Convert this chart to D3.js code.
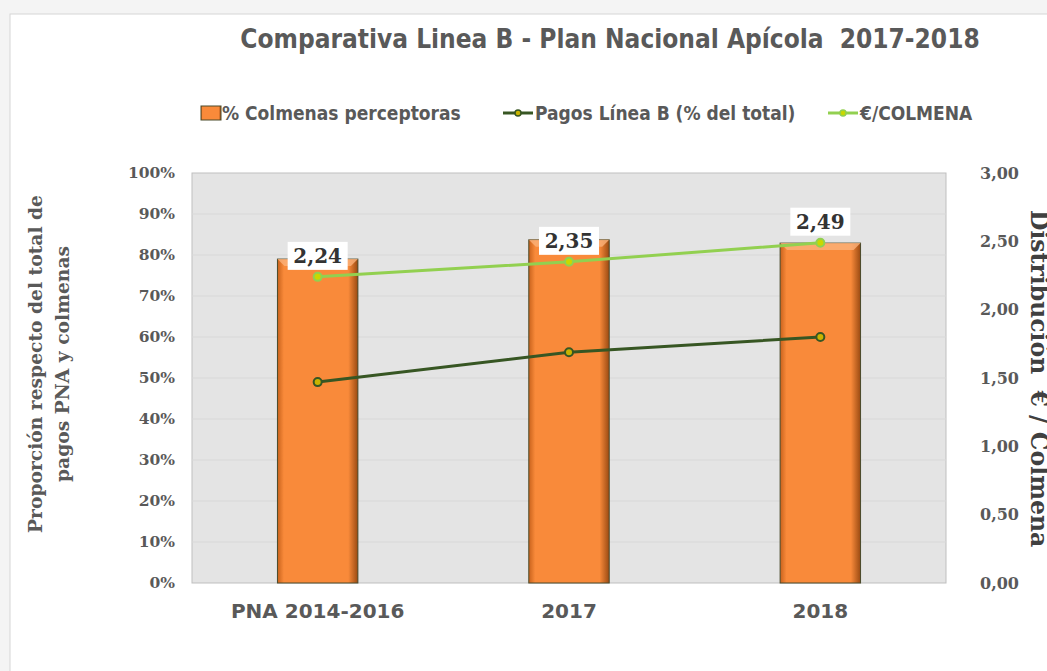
<!DOCTYPE html>
<html>
<head>
<meta charset="utf-8">
<script src="https://cdn.jsdelivr.net/npm/d3@7"></script>
<style>
body { margin: 0; background: #f4f4f4; }
svg { display: block; }
</style>
</head>
<body>
<script>
// chart data
let categories = ['PNA 2014-2016', '2017', '2018'];
let colmenasPct = [0.79, 0.837, 0.829];
let pagosPct = [0.49, 0.563, 0.60];
let euroColmena = [2.24, 2.35, 2.49];
let leftTicks = [0, 0.1, 0.2, 0.3, 0.4, 0.5, 0.6, 0.7, 0.8, 0.9, 1];
let rightTicks = [0, 0.5, 1, 1.5, 2, 2.5, 3];

let W = 1047, H = 671;
let svg = d3.select('body').append('svg')
	.attr('width', W)
	.attr('height', H);

//bevel gradients for the bars
let defs = svg.append('defs');
let gx = defs.append('linearGradient').attr('id', 'barH');
gx.append('stop').attr('offset', '0%').attr('stop-color', '#c8621c');
gx.append('stop').attr('offset', '8%').attr('stop-color', '#f98a3a');
gx.append('stop').attr('offset', '88%').attr('stop-color', '#f98a3a');
gx.append('stop').attr('offset', '100%').attr('stop-color', '#9a4a12');

//chart frame
svg.append('rect')
	.attr('x', 10).attr('y', 14)
	.attr('width', W).attr('height', H)
	.attr('fill', '#ffffff')
	.attr('stroke', '#d6d6d6');

let pLeft = 192, pRight = 946, pTop = 173, pBottom = 583;

let x = d3.scaleBand()
	.domain(categories)
	.range([pLeft, pRight])
	.paddingInner(0.68)
	.paddingOuter(0.34);

let yL = d3.scaleLinear().domain([0, 1]).range([pBottom, pTop]);
let yR = d3.scaleLinear().domain([0, 3]).range([pBottom, pTop]);

//plot background
svg.append('rect')
	.attr('x', pLeft).attr('y', pTop)
	.attr('width', pRight - pLeft).attr('height', pBottom - pTop)
	.attr('fill', '#e4e4e4')
	.attr('stroke', '#bfbfbf');

//gridlines
svg.append('g')
	.selectAll('line')
	.data(leftTicks.slice(1, -1))
	.enter()
	.append('line')
	.attr('x1', pLeft).attr('x2', pRight)
	.attr('y1', d => yL(d)).attr('y2', d => yL(d))
	.attr('stroke', '#d8d8d8');

let serifFont = '"DejaVu Serif", serif';
let sansFont = '"DejaVu Sans", sans-serif';
let condFont = '"DejaVu Sans Condensed", "DejaVu Sans", sans-serif';

//left axis
let axL = svg.append('g')
	.attr('transform', 'translate(' + pLeft + ',0)')
	.call(d3.axisLeft(yL).tickValues(leftTicks).tickSize(0).tickPadding(17)
		.tickFormat(d => Math.round(d * 100) + '%'));
axL.select('.domain').remove();
axL.selectAll('text')
	.attr('font-family', serifFont)
	.attr('font-weight', 'bold')
	.attr('font-size', '15.5px')
	.attr('fill', '#595959');

//right axis
let axR = svg.append('g')
	.attr('transform', 'translate(' + pRight + ',0)')
	.call(d3.axisRight(yR).tickValues(rightTicks).tickSize(0).tickPadding(34)
		.tickFormat(d => d3.format('.2f')(d).replace('.', ',')));
axR.select('.domain').remove();
axR.selectAll('text')
	.attr('font-family', serifFont)
	.attr('font-weight', 'bold')
	.attr('font-size', '16px')
	.attr('fill', '#595959');

//x axis labels
svg.append('g')
	.selectAll('text')
	.data(categories)
	.enter()
	.append('text')
	.attr('x', d => x(d) + x.bandwidth() / 2)
	.attr('y', 618)
	.attr('text-anchor', 'middle')
	.attr('font-family', sansFont)
	.attr('font-weight', 'bold')
	.attr('font-size', '20px')
	.attr('fill', '#595959')
	.text(d => d);

//bars
let bars = svg.append('g');
bars.selectAll('rect')
	.data(colmenasPct)
	.enter()
	.append('rect')
	.attr('x', (d, i) => x(categories[i]))
	.attr('y', d => yL(d))
	.attr('width', x.bandwidth())
	.attr('height', d => pBottom - yL(d))
	.attr('fill', 'url(#barH)')
	.attr('stroke', '#4a4a2a')
	.attr('stroke-width', 1);
//top bevel highlight
bars.selectAll('path')
	.data(colmenasPct)
	.enter()
	.append('path')
	.attr('d', function(d, i) {
		let x0 = x(categories[i]), x1 = x0 + x.bandwidth(), y0 = yL(d);
		return 'M' + x0 + ',' + y0 + 'L' + x1 + ',' + y0 + 'L' + (x1 - 7) + ',' + (y0 + 7) + 'L' + (x0 + 7) + ',' + (y0 + 7) + 'Z';
	})
	.attr('fill', '#fbb27a')
	.attr('opacity', 0.8);

let cx = i => x(categories[i]) + x.bandwidth() / 2;

//pagos line
svg.append('path')
	.datum(pagosPct)
	.attr('fill', 'none')
	.attr('stroke', '#375623')
	.attr('stroke-width', 3)
	.attr('d', d3.line().x((d, i) => cx(i)).y(d => yL(d)));
svg.append('g')
	.selectAll('circle')
	.data(pagosPct)
	.enter()
	.append('circle')
	.attr('cx', (d, i) => cx(i))
	.attr('cy', d => yL(d))
	.attr('r', 4)
	.attr('fill', '#c9b400')
	.attr('stroke', '#375623')
	.attr('stroke-width', 2);

//euro per colmena line
svg.append('path')
	.datum(euroColmena)
	.attr('fill', 'none')
	.attr('stroke', '#92d050')
	.attr('stroke-width', 3)
	.attr('d', d3.line().x((d, i) => cx(i)).y(d => yR(d)));
svg.append('g')
	.selectAll('circle')
	.data(euroColmena)
	.enter()
	.append('circle')
	.attr('cx', (d, i) => cx(i))
	.attr('cy', d => yR(d))
	.attr('r', 4)
	.attr('fill', '#c9d800')
	.attr('stroke', '#92d050')
	.attr('stroke-width', 2);

//data labels
let labels = svg.append('g')
	.selectAll('g')
	.data(euroColmena)
	.enter()
	.append('g')
	.attr('transform', (d, i) => 'translate(' + cx(i) + ',' + (yR(d) - 21) + ')');
labels.append('rect')
	.attr('x', -30).attr('y', -14)
	.attr('width', 60).attr('height', 28)
	.attr('fill', '#ffffff');
labels.append('text')
	.attr('text-anchor', 'middle')
	.attr('dy', '0.36em')
	.attr('font-family', serifFont)
	.attr('font-weight', 'bold')
	.attr('font-size', '20px')
	.attr('fill', '#333333')
	.text(d => d3.format('.2f')(d).replace('.', ','));

//title
svg.append('text')
	.attr('x', 610)
	.attr('y', 48)
	.attr('text-anchor', 'middle')
	.attr('font-family', condFont)
	.attr('font-weight', 'bold')
	.attr('font-size', '26px')
	.attr('fill', '#595959')
	.text('Comparativa Linea B - Plan Nacional Apícola\u00a0\u00a02017-2018');

//legend
let legend = svg.append('g').attr('transform', 'translate(0,113)');
legend.append('rect')
	.attr('x', 201).attr('y', -7)
	.attr('width', 20).attr('height', 14)
	.attr('fill', 'url(#barH)')
	.attr('stroke', '#4a4a2a');
legend.append('text')
	.attr('x', 222).attr('y', 0).attr('dy', '0.35em')
	.attr('font-family', condFont).attr('font-weight', 'bold')
	.attr('font-size', '19px').attr('fill', '#595959')
	.text('% Colmenas perceptoras');

let lineItems = [
	{ x: 503, color: '#375623', fill: '#c9b400', label: 'Pagos Línea B (% del total)' },
	{ x: 828, color: '#92d050', fill: '#c9d800', label: '€/COLMENA' }
];
lineItems.forEach(function(it) {
	legend.append('line')
		.attr('x1', it.x).attr('x2', it.x + 30)
		.attr('stroke', it.color).attr('stroke-width', 3);
	legend.append('circle')
		.attr('cx', it.x + 15).attr('r', 3)
		.attr('fill', it.fill).attr('stroke', it.color).attr('stroke-width', 1.5);
	legend.append('text')
		.attr('x', it.x + 32).attr('y', 0).attr('dy', '0.35em')
		.attr('font-family', condFont).attr('font-weight', 'bold')
		.attr('font-size', '19px').attr('fill', '#595959')
		.text(it.label);
});

//left axis title
let lt = svg.append('text')
	.attr('transform', 'translate(48,364) rotate(-90)')
	.attr('text-anchor', 'middle')
	.attr('font-family', serifFont)
	.attr('font-weight', 'bold')
	.attr('font-size', '18.7px')
	.attr('fill', '#595959');
lt.append('tspan').attr('x', 0).attr('dy', '-0.3em').text('Proporción respecto del total de');
lt.append('tspan').attr('x', 0).attr('dy', '1.4em').text('pagos PNA y colmenas');

//right axis title
svg.append('text')
	.attr('transform', 'translate(1031,210) rotate(90)')
	.attr('text-anchor', 'start')
	.attr('font-family', serifFont)
	.attr('font-weight', 'bold')
	.attr('font-size', '23.5px')
	.attr('fill', '#404040')
	.text('Distribución\u00a0\u00a0€ / Colmena');
</script>
</body>
</html>
